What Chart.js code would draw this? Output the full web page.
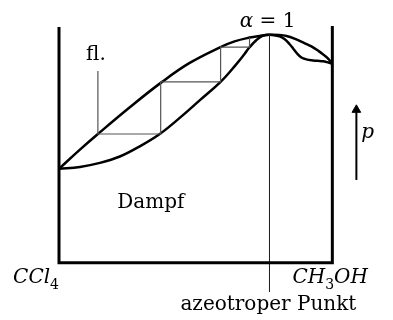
<!DOCTYPE html>
<html>
<head>
<meta charset="utf-8">
<script src="https://cdn.jsdelivr.net/npm/chart.js@4"></script>
<style>
  body { margin: 0; background: #fff; }
</style>
</head>
<body>
<canvas id="siede" width="393" height="320"></canvas>
<script>
// mole fraction CH3OH (0 = CCl4, 1 = CH3OH) and relative pressure (0..100)
var liquidX = [0, 0.0766, 0.1423, 0.2591, 0.3759, 0.4781, 0.5912, 0.6423, 0.6971, 0.7336, 0.7701,
               0.8066, 0.8321, 0.8613, 0.8978, 0.9234, 0.9489, 0.9708, 0.9854, 1];
var liquidP = [39.7, 47.8, 54.4, 65.7, 76.3, 84.4, 91.1, 93.5, 95.1, 95.8, 96.3,
               96.2, 95.8, 94.7, 92.8, 91.4, 89.5, 87.6, 86.1, 84.0];

var vaporX = [0, 0.0766, 0.1496, 0.2226, 0.2956, 0.3686, 0.4416, 0.5146, 0.5912, 0.6460, 0.6788, 0.6971, 0.7226, 0.7445, 0.7701,
              0.8066, 0.8248, 0.8431, 0.8577, 0.8723, 0.8869, 0.9051, 0.9234, 0.9453, 0.9672, 0.9854, 1];
var vaporP = [39.7, 40.5, 42.2, 44.9, 49.2, 54.4, 61.2, 68.6, 76.4, 83.5, 88.2, 91.0, 94.1, 95.8, 96.3,
              95.6, 94.5, 92.4, 90.3, 88.2, 86.7, 85.9, 85.5, 85.3, 85.1, 84.6, 84.0];

// distillation steps
var stepX = [0.1423, 0.1423, 0.372, 0.372, 0.5912, 0.5912, 0.6971, 0.6971];
var stepP = [81.0, 54.4, 54.4, 76.4, 76.4, 91.1, 91.1, 95.1];

// azeotropic point
var azeoX = 0.7701;
var azeoP = 96.3;

function pts(xs, ys) {
    var arr = [];
    for (var i = 0; i < xs.length; i++) arr.push({x: xs[i], y: ys[i]});
    return arr;
}

var frame = [{x: 0, y: 99.6}, {x: 0, y: 0}, {x: 1, y: 0}, {x: 1, y: 100}];
var arrowShaft = [{x: 1.088, y: 35.0}, {x: 1.088, y: 64.6}];
var arrowHead = [{x: 1.088, y: 64.6}];

// text drawn as TeX-like runs: [text, italic, subscript]
var labels = [
    {x: 0.099, y: 85.7, align: 'left', runs: [['fl.', false]]},
    {x: 0.763, y: 99.6, align: 'center', runs: [['\u03b1', true], [' = 1', false]]},
    {x: 0.336, y: 23.2, align: 'center', runs: [['Dampf', false]]},
    {x: -0.168, y: -8.4, align: 'left', runs: [['CCl', true], ['4', false, true]]},
    {x: 0.854, y: -8.4, align: 'left', runs: [['CH', true], ['3', false, true], ['OH', true]]},
    {x: 0.766, y: -19.8, align: 'center', runs: [['azeotroper Punkt', false]]},
    {x: 1.106, y: 52.7, align: 'left', runs: [['p', true]]}
];

function fontFor(run) {
    var size = run[2] ? 14 : 20;
    return (run[1] ? 'italic ' : '') + size + 'px "DejaVu Serif"';
}

var textPlugin = {
    id: 'texts',
    afterDraw: function(chart) {
        var ctx = chart.ctx;
        var sx = chart.scales.x, sy = chart.scales.y;
        ctx.save();
        ctx.fillStyle = '#000';
        ctx.textBaseline = 'alphabetic';
        ctx.textAlign = 'left';
        labels.forEach(function(l) {
            var w = 0;
            l.runs.forEach(function(r) { ctx.font = fontFor(r); w += ctx.measureText(r[0]).width; });
            var px = sx.getPixelForValue(l.x);
            var py = sy.getPixelForValue(l.y);
            if (l.align == 'center') px -= w / 2;
            l.runs.forEach(function(r) {
                ctx.font = fontFor(r);
                ctx.fillText(r[0], px, py + (r[2] ? 6 : 0));
                px += ctx.measureText(r[0]).width;
            });
        });
        ctx.restore();
    }
};

var ctx = document.getElementById('siede').getContext('2d');
var chart = new Chart(ctx, {
    type: 'line',
    data: {
        datasets: [
            {
                label: 'Rahmen',
                data: frame,
                borderColor: '#000',
                borderWidth: 3,
                pointRadius: 0,
                tension: 0,
                clip: false
            },
            {
                label: 'Stufen',
                data: pts(stepX, stepP),
                borderColor: '#555',
                borderWidth: 1.2,
                pointRadius: 0,
                tension: 0
            },
            {
                label: 'azeotroper Punkt',
                data: [{x: azeoX, y: azeoP}, {x: azeoX, y: -12.2}],
                borderColor: '#222',
                borderWidth: 1,
                pointRadius: 0,
                tension: 0
            },
            {
                label: 'fl.',
                data: pts(liquidX, liquidP),
                borderColor: '#000',
                borderWidth: 2.5,
                pointRadius: 0,
                tension: 0.4
            },
            {
                label: 'Dampf',
                data: pts(vaporX, vaporP),
                borderColor: '#000',
                borderWidth: 2.5,
                pointRadius: 0,
                tension: 0.4
            },
            {
                label: 'p',
                data: arrowShaft,
                borderColor: '#000',
                borderWidth: 2,
                pointRadius: 0,
                tension: 0
            },
            {
                label: 'p-Spitze',
                data: arrowHead,
                showLine: false,
                pointStyle: 'triangle',
                pointRadius: 5,
                pointBackgroundColor: '#000',
                pointBorderColor: '#000',
                pointBorderWidth: 1
            }
        ]
    },
    options: {
        responsive: false,
        devicePixelRatio: 1,
        animation: false,
        elements: {line: {capBezierPoints: false}},
        layout: {padding: {left: 59, right: 5, top: 24, bottom: 24}},
        plugins: {legend: {display: false}, tooltip: {enabled: false}},
        scales: {
            x: {type: 'linear', min: 0, max: 1.2, display: false},
            y: {type: 'linear', min: -14, max: 100.84, display: false}
        }
    },
    plugins: [textPlugin]
});
</script>
</body>
</html>
